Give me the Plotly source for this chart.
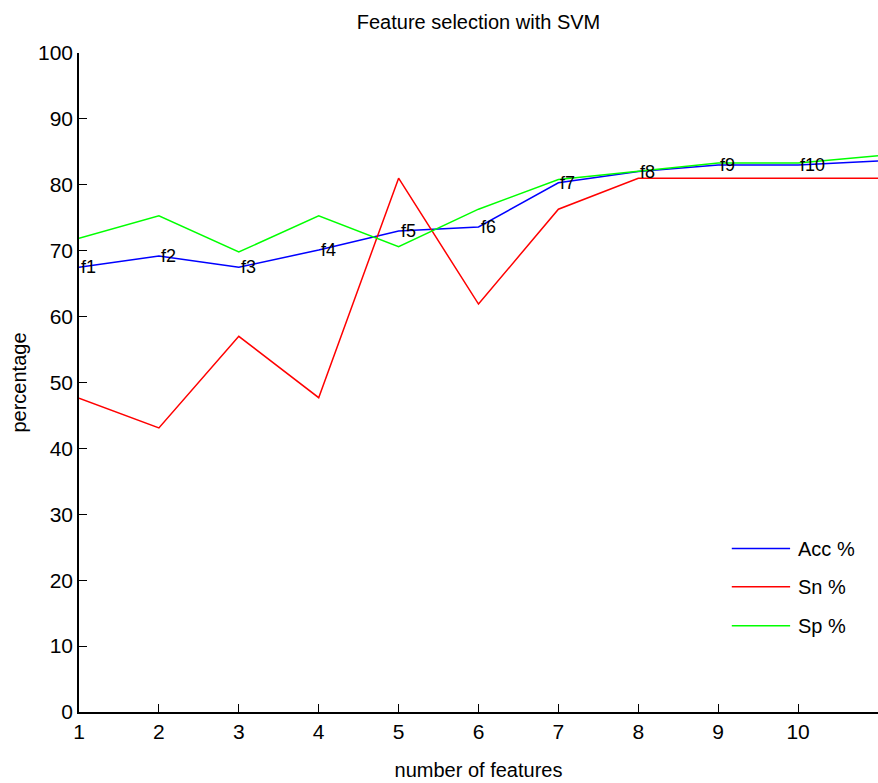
import plotly.graph_objects as go

n_features = [1, 2, 3, 4, 5, 6, 7, 8, 9, 10, 11]
acc = [67.5, 69.2, 67.5, 70.1, 73.0, 73.6, 80.3, 82.0, 83.0, 83.0, 83.6]
sn = [47.6, 43.1, 57.0, 47.7, 81.0, 61.9, 76.3, 81.0, 81.0, 81.0, 81.0]
sp = [71.9, 75.3, 69.8, 75.3, 70.6, 76.3, 80.8, 82.0, 83.3, 83.3, 84.4]
point_labels = ["f1", "f2", "f3", "f4", "f5", "f6", "f7", "f8", "f9", "f10"]
series_names = ["Acc %", "Sn %", "Sp %"]
colors = ["#0000ff", "#ff0000", "#00ff00"]

FONT = "Liberation Sans Narrow, Liberation Sans, Arial"

fig = go.Figure()
for name, vals, col in zip(series_names, [acc, sn, sp], colors):
    fig.add_trace(go.Scatter(x=n_features, y=vals, mode="lines", name=name,
                             line=dict(color=col, width=1.5), showlegend=False))

for i, lab in enumerate(point_labels):
    fig.add_annotation(x=n_features[i], y=acc[i], text=lab, showarrow=False,
                       xanchor="left", yanchor="middle",
                       font=dict(family=FONT, size=18, color="black"))

# manual legend
leg_y = [0.248, 0.190, 0.131]
for name, col, ly in zip(series_names, colors, leg_y):
    fig.add_shape(type="line", xref="paper", yref="paper",
                  x0=0.817, x1=0.89, y0=ly, y1=ly, line=dict(color=col, width=1.5))
    fig.add_annotation(xref="paper", yref="paper", x=0.897, y=ly, text=name,
                       showarrow=False, xanchor="left", yanchor="middle",
                       font=dict(family=FONT, size=20, color="black"))

fig.update_layout(
    width=878, height=783,
    margin=dict(l=79, r=0, t=53, b=71),
    paper_bgcolor="white", plot_bgcolor="white",
    title=dict(text="Feature selection with SVM", x=0.545, xanchor="center",
               y=0.972, yanchor="middle",
               font=dict(family=FONT, size=20, color="black")),
    font=dict(family=FONT, size=21, color="black"),
)
fig.update_xaxes(range=[1, 11], tickvals=list(range(1, 11)), ticks="inside",
                 ticklen=8, tickcolor="black", showline=True, linecolor="black",
                 linewidth=1.5, showgrid=False, zeroline=False,
                 title=dict(text="number of features", standoff=21,
                            font=dict(family=FONT, size=20)))
fig.update_yaxes(range=[0, 100], tickvals=list(range(0, 101, 10)), ticks="inside",
                 ticklen=8, tickcolor="black", showline=True, linecolor="black",
                 linewidth=1.5, showgrid=False, zeroline=False,
                 title=dict(text="percentage", standoff=6,
                            font=dict(family=FONT, size=20)))

fig.write_html("out.html")
